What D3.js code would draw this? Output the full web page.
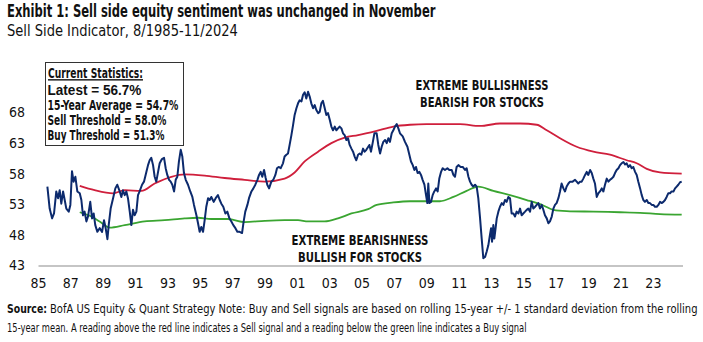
<!DOCTYPE html>
<html>
<head>
<meta charset="utf-8">
<script src="https://cdn.jsdelivr.net/npm/d3@7"></script>
<style>
	body { margin: 0; background: #fff; }
	svg text { font-family: "Liberation Sans Narrow", "DejaVu Sans Condensed", "Roboto", sans-serif; fill: #111; }
</style>
</head>
<body>
<script>
// Sell Side Indicator, monthly readings (decimal year, %)
const indicator = [
	[1985.58, 55.9], [1985.72, 52.3], [1985.87, 50.7], [1985.99, 51.5], [1986.13, 55.1], [1986.24, 54.0],
	[1986.34, 55.3], [1986.44, 53.1], [1986.55, 55.1], [1986.65, 53.7], [1986.75, 52.3], [1986.90, 51.8],
	[1987.00, 52.9], [1987.10, 58.4], [1987.20, 56.7], [1987.31, 57.5], [1987.43, 55.1], [1987.58, 54.8],
	[1987.68, 53.7], [1987.78, 51.2], [1987.88, 51.8], [1987.99, 50.2], [1988.09, 51.0], [1988.23, 53.4],
	[1988.34, 50.7], [1988.44, 51.5], [1988.54, 49.6], [1988.67, 48.5], [1988.81, 49.1], [1988.96, 48.5],
	[1989.08, 50.4], [1989.18, 49.1], [1989.29, 47.3], [1989.37, 49.6], [1989.49, 52.3], [1989.64, 54.0],
	[1989.78, 55.6], [1989.90, 56.2], [1990.05, 55.1], [1990.15, 54.2], [1990.25, 55.3], [1990.36, 54.5],
	[1990.46, 55.1], [1990.56, 54.0], [1990.67, 51.8], [1990.77, 49.6], [1990.87, 52.1], [1990.97, 51.2],
	[1991.08, 51.8], [1991.18, 54.5], [1991.28, 55.1], [1991.43, 56.2], [1991.55, 56.7], [1991.70, 58.3],
	[1991.80, 59.4], [1991.90, 60.2], [1992.00, 60.6], [1992.11, 59.4], [1992.21, 57.5], [1992.31, 56.7],
	[1992.42, 58.3], [1992.52, 59.7], [1992.66, 60.4], [1992.79, 60.6], [1992.89, 58.9], [1992.99, 57.8],
	[1993.10, 57.0], [1993.20, 56.7], [1993.30, 56.2], [1993.41, 55.1], [1993.51, 57.0], [1993.61, 57.5],
	[1993.71, 60.0], [1993.82, 61.9], [1993.92, 60.8], [1994.02, 58.1], [1994.13, 57.0], [1994.27, 56.2],
	[1994.41, 55.1], [1994.54, 54.2], [1994.64, 52.9], [1994.79, 51.2], [1994.89, 49.9], [1994.99, 48.5],
	[1995.09, 49.3], [1995.20, 48.5], [1995.30, 50.4], [1995.40, 52.6], [1995.51, 54.0], [1995.61, 53.7],
	[1995.71, 54.2], [1995.86, 53.4], [1995.98, 54.0], [1996.12, 54.5], [1996.23, 53.7], [1996.33, 53.1],
	[1996.45, 52.6], [1996.58, 51.5], [1996.70, 51.8], [1996.83, 50.7], [1996.95, 50.2], [1997.07, 49.6],
	[1997.20, 49.1], [1997.32, 48.5], [1997.46, 48.5], [1997.61, 48.3], [1997.71, 50.2], [1997.81, 51.8],
	[1997.94, 52.9], [1998.04, 54.0], [1998.19, 55.1], [1998.31, 55.6], [1998.43, 56.2], [1998.56, 57.0],
	[1998.66, 57.8], [1998.76, 58.3], [1998.86, 57.5], [1998.97, 58.6], [1999.07, 57.3], [1999.17, 56.2],
	[1999.28, 55.6], [1999.42, 56.7], [1999.54, 57.0], [1999.67, 57.8], [1999.77, 58.9], [1999.87, 59.1],
	[2000.00, 58.9], [2000.14, 59.7], [2000.24, 60.8], [2000.35, 61.1], [2000.45, 61.3], [2000.55, 62.7],
	[2000.66, 64.3], [2000.76, 65.9], [2000.86, 67.6], [2000.97, 68.7], [2001.07, 69.5], [2001.17, 70.0],
	[2001.28, 69.8], [2001.38, 70.9], [2001.48, 71.3], [2001.58, 70.3], [2001.69, 71.4], [2001.79, 70.6],
	[2001.89, 69.5], [2002.00, 68.7], [2002.10, 69.2], [2002.20, 68.4], [2002.31, 67.9], [2002.41, 68.1],
	[2002.51, 69.5], [2002.61, 69.9], [2002.72, 68.7], [2002.82, 67.6], [2002.92, 67.9], [2003.03, 66.8],
	[2003.13, 65.7], [2003.23, 65.1], [2003.34, 65.7], [2003.44, 65.1], [2003.54, 65.4], [2003.64, 65.7],
	[2003.75, 65.4], [2003.85, 64.6], [2003.95, 64.3], [2004.06, 63.5], [2004.16, 63.8], [2004.26, 62.7],
	[2004.37, 62.1], [2004.47, 61.6], [2004.57, 60.8], [2004.67, 60.2], [2004.78, 61.1], [2004.88, 61.3],
	[2004.98, 61.1], [2005.09, 62.1], [2005.19, 61.6], [2005.29, 61.9], [2005.48, 62.7], [2005.58, 61.6],
	[2005.68, 63.0], [2005.79, 64.6], [2005.93, 64.6], [2006.03, 62.7], [2006.14, 61.3], [2006.24, 62.4],
	[2006.34, 63.2], [2006.45, 63.5], [2006.55, 63.0], [2006.65, 63.8], [2006.75, 63.2], [2006.86, 64.6],
	[2006.96, 65.1], [2007.06, 65.7], [2007.17, 66.1], [2007.27, 65.4], [2007.37, 64.6], [2007.54, 64.1],
	[2007.68, 63.2], [2007.83, 62.4], [2007.95, 61.1], [2008.05, 60.0], [2008.16, 59.4], [2008.26, 58.6],
	[2008.36, 59.1], [2008.46, 58.1], [2008.57, 58.3], [2008.67, 57.8], [2008.77, 57.0], [2008.88, 56.2],
	[2008.98, 54.5], [2009.06, 53.2], [2009.12, 56.4], [2009.19, 53.2], [2009.29, 53.4], [2009.39, 54.5],
	[2009.49, 55.1], [2009.60, 55.6], [2009.70, 55.1], [2009.80, 57.2], [2009.91, 58.3], [2010.01, 58.9],
	[2010.15, 58.6], [2010.30, 58.9], [2010.42, 58.6], [2010.57, 58.6], [2010.67, 57.8], [2010.77, 57.5],
	[2010.87, 59.1], [2010.98, 59.4], [2011.12, 59.1], [2011.25, 59.1], [2011.39, 58.6], [2011.49, 58.9],
	[2011.60, 57.5], [2011.70, 56.7], [2011.80, 56.2], [2011.90, 55.9], [2012.01, 56.2], [2012.11, 55.9],
	[2012.21, 54.0], [2012.32, 50.7], [2012.42, 47.4], [2012.52, 44.2], [2012.63, 44.4], [2012.73, 45.3],
	[2012.83, 46.3], [2012.93, 48.0], [2013.00, 49.1], [2013.06, 46.9], [2013.14, 49.6], [2013.20, 47.4],
	[2013.28, 49.1], [2013.35, 50.7], [2013.45, 51.8], [2013.55, 52.6], [2013.66, 53.2], [2013.76, 52.9],
	[2013.86, 53.7], [2013.96, 53.4], [2014.07, 54.2], [2014.17, 54.0], [2014.27, 51.5], [2014.38, 51.5],
	[2014.48, 51.0], [2014.58, 51.8], [2014.69, 51.5], [2014.79, 52.3], [2014.89, 51.2], [2014.99, 51.5],
	[2015.10, 51.8], [2015.20, 52.1], [2015.30, 52.3], [2015.41, 51.8], [2015.51, 53.4], [2015.61, 52.3],
	[2015.72, 52.6], [2015.82, 52.9], [2015.92, 53.2], [2016.02, 52.3], [2016.13, 52.9], [2016.23, 52.1],
	[2016.33, 51.2], [2016.44, 50.7], [2016.54, 49.9], [2016.64, 50.2], [2016.75, 51.0], [2016.85, 52.3],
	[2016.95, 52.9], [2017.05, 53.2], [2017.16, 54.0], [2017.26, 55.1], [2017.36, 56.4], [2017.47, 55.6],
	[2017.57, 55.1], [2017.67, 55.9], [2017.78, 56.4], [2017.88, 56.7], [2018.04, 56.7], [2018.19, 57.0],
	[2018.29, 56.7], [2018.39, 56.4], [2018.50, 56.7], [2018.60, 56.7], [2018.70, 57.2], [2018.81, 57.8],
	[2018.91, 58.3], [2019.01, 57.8], [2019.12, 58.6], [2019.22, 58.1], [2019.32, 57.2], [2019.42, 56.4],
	[2019.53, 54.2], [2019.63, 54.8], [2019.73, 55.1], [2019.84, 55.6], [2019.94, 55.1], [2020.04, 56.2],
	[2020.15, 57.2], [2020.25, 56.7], [2020.35, 57.0], [2020.45, 57.2], [2020.56, 57.5], [2020.66, 58.1],
	[2020.76, 58.6], [2020.87, 58.9], [2020.97, 59.4], [2021.07, 59.7], [2021.18, 59.9], [2021.28, 59.5],
	[2021.38, 59.7], [2021.48, 59.1], [2021.59, 59.4], [2021.69, 58.9], [2021.79, 59.1], [2021.90, 58.3],
	[2022.00, 57.8], [2022.10, 56.7], [2022.21, 55.6], [2022.31, 54.5], [2022.41, 53.7], [2022.51, 53.4],
	[2022.62, 53.7], [2022.72, 53.2], [2022.82, 53.2], [2022.93, 52.9], [2023.03, 52.9], [2023.13, 52.6],
	[2023.24, 52.6], [2023.34, 52.9], [2023.44, 53.4], [2023.54, 53.2], [2023.65, 53.4], [2023.75, 53.7],
	[2023.85, 54.2], [2023.95, 54.8], [2024.06, 54.8], [2024.16, 55.1], [2024.27, 55.1], [2024.37, 55.6],
	[2024.47, 55.9], [2024.57, 56.2], [2024.68, 56.6], [2024.78, 56.7],
];

// rolling 15-year mean + 1 std dev
const sellThreshold = [
	[1987.58, 56.0], [1988.50, 55.3], [1989.64, 54.8], [1990.36, 55.3], [1991.39, 55.2], [1992.21, 56.4],
	[1993.24, 57.5], [1994.06, 57.9], [1995.30, 57.7], [1996.54, 57.3], [1997.77, 57.0], [1999.01, 56.7],
	[2000.24, 57.2], [2000.86, 58.2], [2001.48, 60.0], [2002.31, 61.6], [2003.13, 63.0], [2003.95, 63.9],
	[2004.78, 64.3], [2005.93, 65.0], [2006.96, 65.7], [2007.99, 66.0], [2009.02, 66.1], [2010.05, 66.1],
	[2011.08, 66.1], [2012.32, 65.8], [2013.55, 66.2], [2014.79, 66.2], [2015.82, 66.0], [2016.44, 65.1],
	[2017.26, 63.8], [2018.29, 62.4], [2019.32, 61.6], [2020.35, 61.1], [2021.38, 60.2], [2022.00, 59.7],
	[2022.62, 58.8], [2023.44, 58.2], [2024.78, 58.0],
];

// rolling 15-year mean - 1 std dev
const buyThreshold = [
	[1987.58, 51.7], [1988.30, 51.0], [1988.81, 50.2], [1989.43, 49.2], [1990.36, 49.6], [1991.59, 50.2],
	[1992.83, 50.4], [1994.06, 50.7], [1994.89, 50.8], [1995.71, 50.6], [1996.74, 50.6], [1997.77, 50.1],
	[1999.01, 50.3], [2000.24, 50.4], [2001.07, 50.4], [2001.69, 50.2], [2002.72, 50.2], [2003.54, 50.7],
	[2004.37, 51.5], [2005.40, 52.2], [2005.93, 52.9], [2006.96, 53.3], [2007.99, 53.5], [2009.02, 53.5],
	[2009.84, 53.5], [2010.67, 54.2], [2011.49, 55.2], [2012.21, 55.9], [2013.14, 55.2], [2014.17, 54.5],
	[2015.20, 53.7], [2016.23, 52.8], [2016.85, 52.1], [2017.67, 51.9], [2019.32, 51.8], [2020.97, 51.7],
	[2022.21, 51.6], [2023.44, 51.4], [2024.78, 51.3],
];

const xTickYears = [1985, 1987, 1989, 1991, 1993, 1995, 1997, 1999, 2001, 2003, 2005, 2007, 2009, 2011, 2013, 2015, 2017, 2019, 2021, 2023];
const yTicks = [43, 48, 53, 58, 63, 68];

const statsLines = [
	"Latest = 56.7%",
	"15-Year Average = 54.7%",
	"Sell Threshold = 58.0%",
	"Buy Threshold = 51.3%",
];

const width = 703;
const height = 342;

const svg = d3.select("body").append("svg").attr("width", width).attr("height", height);

// place a text at (x, y) and squeeze it horizontally to a measured width
const fit = (sel, x0, y0, w) => {
	const len = sel.node().getComputedTextLength();
	sel.attr("transform", `translate(${x0},${y0}) scale(${w / len},1)`);
};

svg.append("text").style("font-size", "17px").style("font-weight", "bold")
	.text("Exhibit 1: Sell side equity sentiment was unchanged in November").call(fit, 7, 17, 429);
svg.append("text").style("font-size", "16px")
	.text("Sell Side Indicator, 8/1985-11/2024").call(fit, 7, 36, 231);

const x = d3.scaleLinear().domain([1985, 2024.83]).range([38, 682.5]);
const y = d3.scaleLinear().domain([43, 73]).range([265.5, 81.9]);

const xAxis = d3.axisBottom(x).tickValues(xTickYears).tickSize(0).tickSizeOuter(0).tickPadding(13)
	.tickFormat((d) => String(d % 100).padStart(2, "0"));
const gx = svg.append("g").attr("transform", "translate(0,265.5)").call(xAxis);
gx.select(".domain").attr("stroke", "#8c8c8c").attr("stroke-width", 1.2);
gx.selectAll("text").style("font-size", "14px").style("font-family", null).attr("fill", "#222");

const yAxis = d3.axisLeft(y).tickValues(yTicks).tickSize(0).tickPadding(13);
const gy = svg.append("g").attr("transform", "translate(38,0)").call(yAxis);
gy.select(".domain").remove();
gy.selectAll("text").style("font-size", "14px").style("font-family", null).attr("fill", "#222");

const line = d3.line().x((d) => x(d[0])).y((d) => y(d[1]));
const smooth = d3.line().x((d) => x(d[0])).y((d) => y(d[1])).curve(d3.curveMonotoneX);

svg.append("path").datum(sellThreshold).attr("d", smooth)
	.attr("fill", "none").attr("stroke", "#cf1f3c").attr("stroke-width", 1.8);
svg.append("path").datum(buyThreshold).attr("d", smooth)
	.attr("fill", "none").attr("stroke", "#3aa531").attr("stroke-width", 1.8);
svg.append("path").datum(indicator).attr("d", line)
	.attr("fill", "none").attr("stroke", "#0c2a6d").attr("stroke-width", 2).attr("stroke-linejoin", "round");

// statistics box
const box = svg.append("g");
box.append("rect").attr("x", 45.5).attr("y", 62.5).attr("width", 138).attr("height", 83)
	.attr("fill", "#fff").attr("stroke", "#333").attr("stroke-width", 1);
box.append("text").style("font-size", "14px").style("font-weight", "bold")
	.style("text-decoration", "underline").text("Current Statistics:").call(fit, 48, 78, 95);
const statWidths = [94, 131, 119, 117];
box.selectAll("text.stat").data(statsLines).enter().append("text").attr("class", "stat")
	.style("font-size", "14px").style("font-weight", "bold")
	.style("font-family", (d, i) => (i === 0 ? "'Liberation Sans', Arial, sans-serif" : null))
	.text((d) => d)
	.each(function (d, i) { d3.select(this).call(fit, 47.5, 95 + i * 15, statWidths[i]); });

// zone labels
const zone = (lines, cx, y0, widths) => {
	lines.forEach((t, i) => {
		svg.append("text").attr("text-anchor", "middle")
			.style("font-size", "14px").style("font-weight", "bold").text(t).call(fit, cx, y0 + i * 17, widths[i]);
	});
};
zone(["EXTREME BULLISHNESS", "BEARISH FOR STOCKS"], 482, 90, [133, 124]);
zone(["EXTREME BEARISHNESS", "BULLISH FOR STOCKS"], 360, 245, [137, 124]);

// footnote
svg.append("text").style("font-size", "13px").style("font-weight", "bold").text("Source:").call(fit, 7, 313, 40);
svg.append("text").style("font-size", "13px")
	.text("BofA US Equity & Quant Strategy Note: Buy and Sell signals are based on rolling 15-year +/- 1 standard deviation from the rolling")
	.call(fit, 50, 313, 648);
svg.append("text").style("font-size", "13px")
	.text("15-year mean. A reading above the red line indicates a Sell signal and a reading below the green line indicates a Buy signal")
	.call(fit, 7, 332, 520);
</script>
</body>
</html>
